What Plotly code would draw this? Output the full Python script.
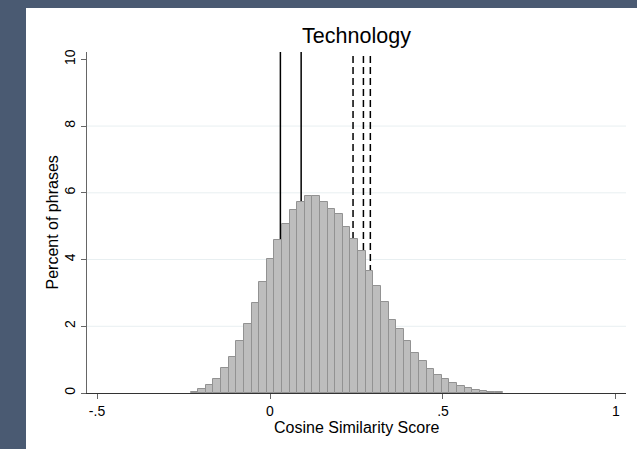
import plotly.graph_objects as go

# Histogram of cosine similarity scores (percent of phrases per bin)
bin_start = -0.2295
bin_width = 0.022
percent = [
    0.03, 0.11, 0.23, 0.43, 0.74, 1.09, 1.56, 2.07, 2.71, 3.33,
    4.03, 4.58, 5.07, 5.48, 5.71, 5.90, 5.90, 5.72, 5.51, 5.36,
    4.99, 4.61, 4.25, 3.66, 3.20, 2.72, 2.18, 1.91, 1.55, 1.19,
    0.95, 0.72, 0.54, 0.41, 0.29, 0.20, 0.14, 0.09, 0.06, 0.03,
    0.02,
]
centers = [bin_start + bin_width * (k + 0.5) for k in range(len(percent))]

# Reference lines
solid_lines = [0.03, 0.09]
dashed_lines = [0.24, 0.27, 0.29]

x_ticks = [-0.5, 0, 0.5, 1]
x_tick_text = ["-.5", "0", ".5", "1"]
y_ticks = [0, 2, 4, 6, 8, 10]
y_tick_text = ["0", "2", "4", "6", "8", "10"]
grid_values = [2, 4, 6, 8]

W, H = 637, 449
L, R, T, B = 87, 11, 52, 56
pw, ph = W - L - R, H - T - B

FONT = "Liberation Sans, Arial, Helvetica, sans-serif"


def px_to_paper_x(px):
    return (px - L) / pw


def px_to_paper_y(py):
    return (H - B - py) / ph


fig = go.Figure()
fig.add_trace(go.Bar(
    x=centers, y=percent, width=bin_width,
    marker=dict(color="#bdbdbd", line=dict(color="#929292", width=1)),
    hoverinfo="x+y", showlegend=False,
))

shapes = []
# outer frame strips (left and top)
frame = "#4a5a72"
shapes.append(dict(type="rect", xref="paper", yref="paper",
                   x0=px_to_paper_x(0), x1=px_to_paper_x(26),
                   y0=px_to_paper_y(H), y1=px_to_paper_y(0),
                   fillcolor=frame, line=dict(width=0), layer="below"))
shapes.append(dict(type="rect", xref="paper", yref="paper",
                   x0=px_to_paper_x(0), x1=px_to_paper_x(W),
                   y0=px_to_paper_y(8), y1=px_to_paper_y(0),
                   fillcolor=frame, line=dict(width=0), layer="below"))

for g in grid_values:
    shapes.append(dict(type="line", xref="paper", yref="y", x0=0, x1=1,
                       y0=g, y1=g, line=dict(color="#e8eff1", width=1),
                       layer="below"))
for v in solid_lines:
    shapes.append(dict(type="line", xref="x", yref="paper", x0=v, x1=v,
                       y0=0, y1=1, line=dict(color="black", width=1.5),
                       layer="below"))
for v in dashed_lines:
    shapes.append(dict(type="line", xref="x", yref="paper", x0=v, x1=v,
                       y0=0, y1=1,
                       line=dict(color="black", width=1.5, dash="7px,4px"),
                       layer="below"))

annotations = [
    dict(text="Cosine Similarity Score", xref="paper", yref="paper",
         x=0.5, y=px_to_paper_y(428), xanchor="center", yanchor="middle",
         showarrow=False, font=dict(size=16, family=FONT, color="black")),
    dict(text="Percent of phrases", xref="paper", yref="paper",
         x=px_to_paper_x(52), y=0.5, xanchor="center", yanchor="middle",
         textangle=-90, showarrow=False,
         font=dict(size=16, family=FONT, color="black")),
]

fig.update_layout(
    width=W, height=H,
    margin=dict(l=L, r=R, t=T, b=B, pad=0),
    paper_bgcolor="white", plot_bgcolor="white",
    bargap=0,
    shapes=shapes,
    annotations=annotations,
    font=dict(family=FONT, color="black", size=14),
    title=dict(text="Technology", x=0.5, xref="paper", xanchor="center",
               y=1 - 35 / H, yref="container", yanchor="middle",
               font=dict(size=21.5, family=FONT, color="black")),
    xaxis=dict(range=[-0.529, 1.029], tickvals=x_ticks, ticktext=x_tick_text,
               showgrid=False, zeroline=False, showline=True,
               linecolor="#333333", linewidth=1,
               ticks="outside", ticklen=5, tickcolor="#666666", tickwidth=1,
               tickfont=dict(size=14)),
    yaxis=dict(range=[0, 10.22], tickvals=y_ticks, ticktext=y_tick_text,
               showgrid=False, zeroline=False, showline=True,
               linecolor="#666666", linewidth=1,
               ticks="outside", ticklen=5, tickcolor="#666666", tickwidth=1,
               tickangle=-90, tickfont=dict(size=14)),
)

fig.write_html("out.html")
